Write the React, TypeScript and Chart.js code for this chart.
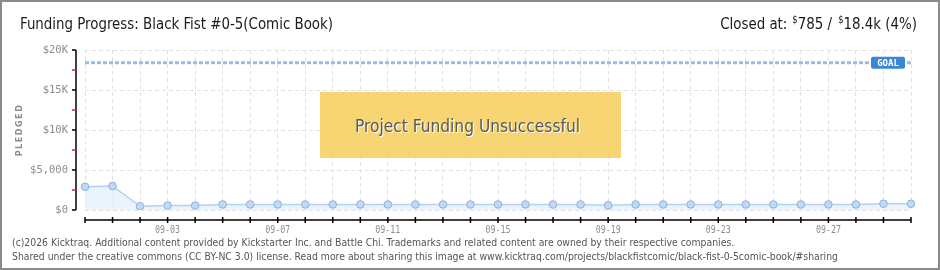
import React, { useEffect, useRef } from 'react';
import { Chart, registerables } from 'chart.js';

Chart.register(...registerables);

const DATES = [
  '08-31', '09-01', '09-02', '09-03', '09-04', '09-05', '09-06', '09-07', '09-08', '09-09',
  '09-10', '09-11', '09-12', '09-13', '09-14', '09-15', '09-16', '09-17', '09-18', '09-19',
  '09-20', '09-21', '09-22', '09-23', '09-24', '09-25', '09-26', '09-27', '09-28', '09-29', '09-30',
];
const PLEDGED = [
  2900, 3000, 470, 560, 560, 690, 690, 690, 690, 690,
  690, 690, 690, 690, 690, 690, 690, 690, 690, 580,
  690, 690, 690, 690, 690, 690, 690, 690, 690, 785, 785,
];
const GOAL = 18400;
const Y_TICKS = [0, 5000, 10000, 15000, 20000];
const Y_TICK_LABELS = ['$0', '$5,000', '$10K', '$15K', '$20K'];
const X_LABELS = ['09-03', '09-07', '09-11', '09-15', '09-19', '09-23', '09-27'];
const TITLE = 'Funding Progress: Black Fist #0-5(Comic Book)';
const CLOSED_PREFIX = 'Closed at:';
const CLOSED_AMOUNT = '785';
const GOAL_TEXT = '18.4k (4%)';
const STATUS = 'Project Funding Unsuccessful';
const FOOTER_1 = '(c)2026 Kicktraq. Additional content provided by Kickstarter Inc. and Battle Chi. Trademarks and related content are owned by their respective companies.';
const FOOTER_2 = 'Shared under the creative commons (CC BY-NC 3.0) license. Read more about sharing this image at www.kicktraq.com/projects/blackfistcomic/black-fist-0-5comic-book/#sharing';

const SQ_FONT = '"DejaVu Sans Condensed", "DejaVu Sans", sans-serif';
const MONO = '"DejaVu Sans Mono", monospace';

function fitText(ctx: CanvasRenderingContext2D, text: string, x: number, y: number, scale: number, align: 'left' | 'right' | 'center') {
  const w = ctx.measureText(text).width;
  ctx.save();
  ctx.translate(x, y);
  ctx.scale(scale, 1);
  ctx.textAlign = 'left';
  const sx = align === 'left' ? 0 : align === 'right' ? -w : -w / 2;
  ctx.fillText(text, sx, 0);
  ctx.restore();
  return w * scale;
}

const kicktraqPlugin = {
  id: 'kicktraq',
  beforeDraw(chart: any) {
    const ctx = chart.ctx as CanvasRenderingContext2D;
    ctx.save();
    ctx.fillStyle = '#ffffff';
    ctx.fillRect(0, 0, chart.width, chart.height);
    ctx.restore();
  },
  beforeDatasetsDraw(chart: any) {
    const ctx = chart.ctx as CanvasRenderingContext2D;
    const xs = chart.scales.x;
    const ys = chart.scales.y;
    const gy = ys.getPixelForValue(GOAL);
    ctx.save();
    ctx.strokeStyle = '#96bce9';
    ctx.lineWidth = 3;
    ctx.setLineDash([4, 2]);
    ctx.beginPath();
    ctx.moveTo(xs.getPixelForValue(0), gy);
    ctx.lineTo(xs.getPixelForValue(DATES.length - 1), gy);
    ctx.stroke();
    ctx.restore();
  },
  afterDatasetsDraw(chart: any) {
    const ctx = chart.ctx as CanvasRenderingContext2D;
    const xs = chart.scales.x;
    const ys = chart.scales.y;
    // Goal label
    const gy = ys.getPixelForValue(GOAL);
    const right = xs.getPixelForValue(DATES.length - 1) - 6;
    ctx.save();
    ctx.fillStyle = '#3d86d6';
    ctx.beginPath();
    (ctx as any).roundRect(right - 34, gy - 6, 34, 12, 2);
    ctx.fill();
    ctx.fillStyle = '#ffffff';
    ctx.font = 'bold 9px ' + MONO;
    ctx.textBaseline = 'middle';
    fitText(ctx, 'GOAL', right - 17, gy + 0.5, 1.0, 'center');
    ctx.restore();

    // Status box
    const bx = 320, by = 92, bw = 301, bh = 66;
    ctx.save();
    ctx.fillStyle = '#f6d472';
    ctx.fillRect(bx, by, bw, bh);
    ctx.beginPath();
    ctx.rect(bx, by, bw, bh);
    ctx.clip();
    ctx.strokeStyle = 'rgba(255,255,255,0.10)';
    ctx.lineWidth = 1;
    for (let i = -bh; i < bw; i += 4) {
      ctx.beginPath();
      ctx.moveTo(bx + i, by + bh);
      ctx.lineTo(bx + i + bh, by);
      ctx.stroke();
    }
    ctx.restore();
    ctx.save();
    ctx.font = '18px ' + SQ_FONT;
    ctx.textBaseline = 'alphabetic';
    const nat = ctx.measureText(STATUS).width;
    const sc = 225 / nat;
    ctx.fillStyle = '#ffffff';
    fitText(ctx, STATUS, 468.5, 133, sc, 'center');
    ctx.fillStyle = '#585858';
    fitText(ctx, STATUS, 467.5, 132, sc, 'center');
    ctx.restore();
  },
  afterDraw(chart: any) {
    const ctx = chart.ctx as CanvasRenderingContext2D;
    const xs = chart.scales.x;
    const ys = chart.scales.y;
    ctx.save();

    // Y axis
    const axX = 76;
    const yTop = ys.getPixelForValue(Y_TICKS[Y_TICKS.length - 1]);
    const yBot = ys.getPixelForValue(Y_TICKS[0]);
    ctx.strokeStyle = '#000';
    ctx.lineWidth = 1.5;
    ctx.beginPath();
    ctx.moveTo(axX, yTop);
    ctx.lineTo(axX, yBot);
    ctx.stroke();
    ctx.lineWidth = 1.5;
    Y_TICKS.forEach((v, i) => {
      const py = ys.getPixelForValue(v);
      ctx.strokeStyle = '#000';
      ctx.beginPath();
      ctx.moveTo(axX - 4, py);
      ctx.lineTo(axX, py);
      ctx.stroke();
      if (i < Y_TICKS.length - 1) {
        const my = ys.getPixelForValue((v + Y_TICKS[i + 1]) / 2);
        ctx.strokeStyle = '#e02020';
        ctx.beginPath();
        ctx.moveTo(axX - 4, my);
        ctx.lineTo(axX, my);
        ctx.stroke();
      }
    });
    ctx.fillStyle = '#8c8c8c';
    ctx.font = '10.5px ' + MONO;
    ctx.textBaseline = 'middle';
    Y_TICKS.forEach((v, i) => {
      fitText(ctx, Y_TICK_LABELS[i], 68, ys.getPixelForValue(v), 1, 'right');
    });

    // Y title
    ctx.save();
    ctx.translate(20, 130);
    ctx.rotate(-Math.PI / 2);
    ctx.font = 'bold 9px ' + SQ_FONT;
    ctx.fillStyle = '#8c8c8c';
    const pw = ctx.measureText('PLEDGED').width;
    (ctx as any).letterSpacing = '1.5px';
    ctx.textBaseline = 'middle';
    ctx.textAlign = 'center';
    ctx.fillText('PLEDGED', 0, 0);
    (ctx as any).letterSpacing = '0px';
    ctx.restore();

    // X axis
    const axY = 220;
    const x0 = xs.getPixelForValue(0);
    const x1 = xs.getPixelForValue(DATES.length - 1);
    ctx.strokeStyle = '#000';
    ctx.lineWidth = 1.5;
    ctx.beginPath();
    ctx.moveTo(x0, axY);
    ctx.lineTo(x1, axY);
    ctx.stroke();
    DATES.forEach((_, i) => {
      const px = xs.getPixelForValue(i);
      ctx.beginPath();
      ctx.moveTo(px, axY - 3);
      ctx.lineTo(px, axY + 3);
      ctx.stroke();
    });
    ctx.font = '10px ' + MONO;
    ctx.fillStyle = '#8c8c8c';
    ctx.textBaseline = 'middle';
    X_LABELS.forEach((lab) => {
      const idx = DATES.indexOf(lab);
      if (idx < 0) return;
      const w = ctx.measureText(lab).width;
      fitText(ctx, lab, xs.getPixelForValue(idx), 230, 25 / w, 'center');
    });

    // Title
    ctx.fillStyle = '#1a1a1a';
    ctx.font = '16px ' + SQ_FONT;
    ctx.textBaseline = 'alphabetic';
    const tw = ctx.measureText(TITLE).width;
    const k = 313 / tw;
    fitText(ctx, TITLE, 20, 29, k, 'left');

    // Closed at (right aligned, built right to left)
    let cx = 917;
    ctx.font = '16px ' + SQ_FONT;
    cx -= fitText(ctx, GOAL_TEXT, cx, 29, k, 'right');
    ctx.font = '10px ' + SQ_FONT;
    cx -= fitText(ctx, '$', cx, 23, k, 'right') + 2;
    ctx.font = '16px ' + SQ_FONT;
    cx -= fitText(ctx, CLOSED_AMOUNT + ' / ', cx, 29, k, 'right');
    ctx.font = '10px ' + SQ_FONT;
    cx -= fitText(ctx, '$', cx, 23, k, 'right') + 5;
    ctx.font = '16px ' + SQ_FONT;
    fitText(ctx, CLOSED_PREFIX, cx, 29, k, 'right');

    // Footer
    ctx.fillStyle = '#555';
    ctx.font = '10px "DejaVu Sans", Verdana, sans-serif';
    ctx.textBaseline = 'middle';
    const fw = ctx.measureText(FOOTER_2).width;
    const fk = 826 / fw;
    fitText(ctx, FOOTER_1, 12, 243, fk, 'left');
    fitText(ctx, FOOTER_2, 12, 257, fk, 'left');

    // Outer border
    ctx.strokeStyle = '#8a8a8a';
    ctx.lineWidth = 2;
    ctx.strokeRect(1, 1, chart.width - 2, chart.height - 2);
    ctx.restore();
  },
};

export default function App() {
  const ref = useRef<HTMLCanvasElement | null>(null);
  useEffect(() => {
    if (!ref.current) return;
    const chart = new Chart(ref.current, {
      type: 'line',
      data: {
        labels: DATES,
        datasets: [
          {
            data: PLEDGED,
            borderColor: '#b3d1f2',
            borderWidth: 1.5,
            backgroundColor: 'rgba(226,238,251,0.7)',
            fill: 'origin',
            tension: 0,
            pointRadius: 3.8,
            pointBackgroundColor: '#c0d9f6',
            pointBorderColor: '#8cb1de',
            pointBorderWidth: 1,
          },
        ],
      },
      options: {
        animation: false,
        responsive: false,
        devicePixelRatio: 1,
        layout: { padding: { left: 85, right: 29, top: 50, bottom: 60 } },
        plugins: { legend: { display: false }, tooltip: { enabled: false } },
        scales: {
          x: {
            type: 'category',
            offset: false,
            ticks: { display: false },
            grid: { color: '#e2e2e2', drawTicks: false, lineWidth: 1 },
            border: { display: false, dash: [4, 3] },
            afterFit: (s: any) => { s.height = 0; },
          },
          y: {
            min: 0,
            max: 20000,
            ticks: { display: false, stepSize: 5000 },
            grid: { color: '#e2e2e2', drawTicks: false, lineWidth: 1 },
            border: { display: false, dash: [4, 3] },
            afterFit: (s: any) => { s.width = 0; },
          },
        },
      },
      plugins: [kicktraqPlugin],
    } as any);
    return () => chart.destroy();
  }, []);
  return (
    <div style={{ position: 'fixed', left: 0, top: 0, width: 940, height: 270 }}>
      <canvas ref={ref} width={940} height={270} style={{ width: 940, height: 270, display: 'block' }} />
    </div>
  );
}
